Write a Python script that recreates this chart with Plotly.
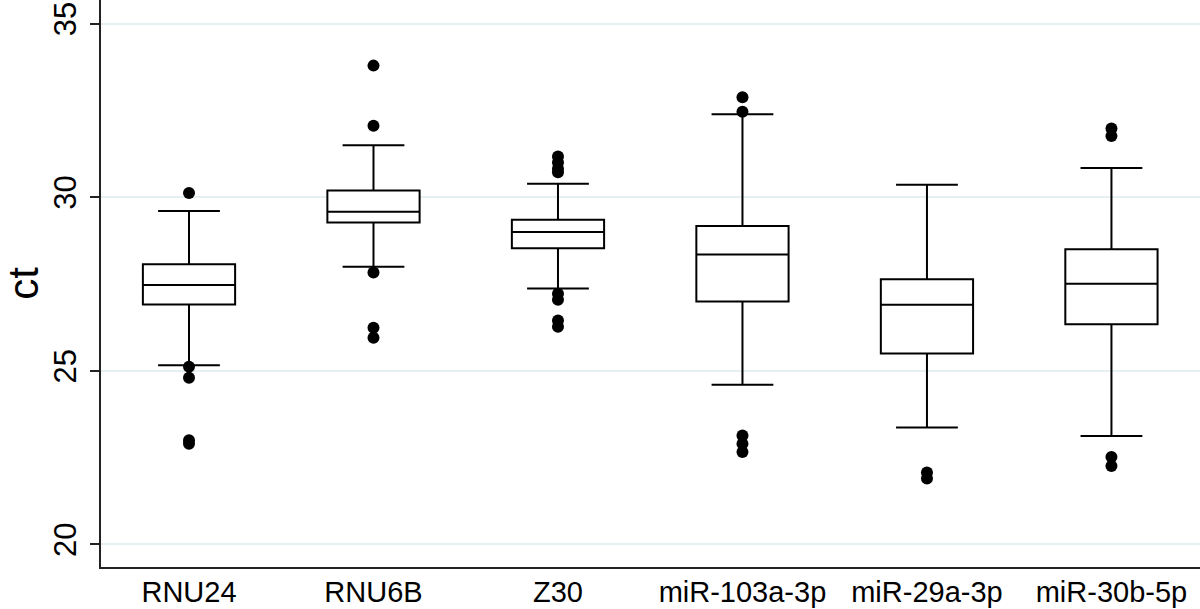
import plotly.graph_objects as go

categories = ["RNU24", "RNU6B", "Z30", "miR-103a-3p", "miR-29a-3p", "miR-30b-5p"]
q1 = [26.91, 29.27, 28.53, 27.00, 25.50, 26.34]
median = [27.47, 29.58, 29.00, 28.35, 26.90, 27.51]
q3 = [28.07, 30.19, 29.35, 29.17, 27.64, 28.50]
lowerfence = [25.16, 28.00, 27.37, 24.60, 23.37, 23.12]
upperfence = [29.60, 31.50, 30.39, 32.39, 30.36, 30.84]

outlier_groups = {
    "RNU24": [30.12, 25.12, 24.80, 23.00, 22.90],
    "RNU6B": [33.79, 32.06, 27.83, 26.24, 25.95],
    "Z30": [31.17, 31.00, 30.82, 30.72, 27.22, 27.05, 26.45, 26.27],
    "miR-103a-3p": [32.88, 32.46, 23.14, 22.90, 22.66],
    "miR-29a-3p": [22.07, 21.90],
    "miR-30b-5p": [31.98, 31.76, 22.52, 22.26],
}
out_x = [c for c, vals in outlier_groups.items() for _ in vals]
out_y = [v for vals in outlier_groups.values() for v in vals]

y_ticks = [20, 25, 30, 35]

fig = go.Figure()
fig.add_trace(go.Box(
    x=categories, q1=q1, median=median, q3=q3,
    lowerfence=lowerfence, upperfence=upperfence,
    boxpoints=False, width=0.5, whiskerwidth=0.67,
    fillcolor="white", line=dict(color="black", width=2),
    showlegend=False, hoverinfo="skip",
))
fig.add_trace(go.Scatter(
    x=out_x, y=out_y, mode="markers",
    marker=dict(color="black", size=12, line=dict(width=0)),
    showlegend=False, hoverinfo="skip",
))

fig.update_layout(
    width=1200, height=609,
    margin=dict(l=101, r=0, t=0, b=42, autoexpand=False),
    paper_bgcolor="white", plot_bgcolor="white",
    font=dict(family="Liberation Sans, Arial, sans-serif", color="black"),
)
fig.update_xaxes(
    type="category", categoryorder="array", categoryarray=categories,
    range=[-0.477, 5.48], automargin=False,
    showgrid=False, zeroline=False,
    showline=True, linecolor="#222222", linewidth=1.5,
    ticks="", tickfont=dict(size=29), ticklabelstandoff=-2,
)
fig.update_yaxes(
    range=[19.35, 35.68], automargin=False,
    tickvals=y_ticks, ticktext=[str(t) for t in y_ticks],
    tickangle=-90, tickfont=dict(size=31),
    ticks="outside", ticklen=9, tickwidth=1.5, tickcolor="#222222",
    ticklabelstandoff=2,
    showline=True, linecolor="#222222", linewidth=1.5,
    showgrid=True, gridcolor="#e6eff1", gridwidth=1.5,
    zeroline=False,
    title=dict(text="ct", font=dict(size=42), standoff=12),
)

fig.write_html(
    "out.html",
    config={"displayModeBar": False},
    post_script="document.body.style.margin='0';document.body.style.overflow='hidden';",
)
